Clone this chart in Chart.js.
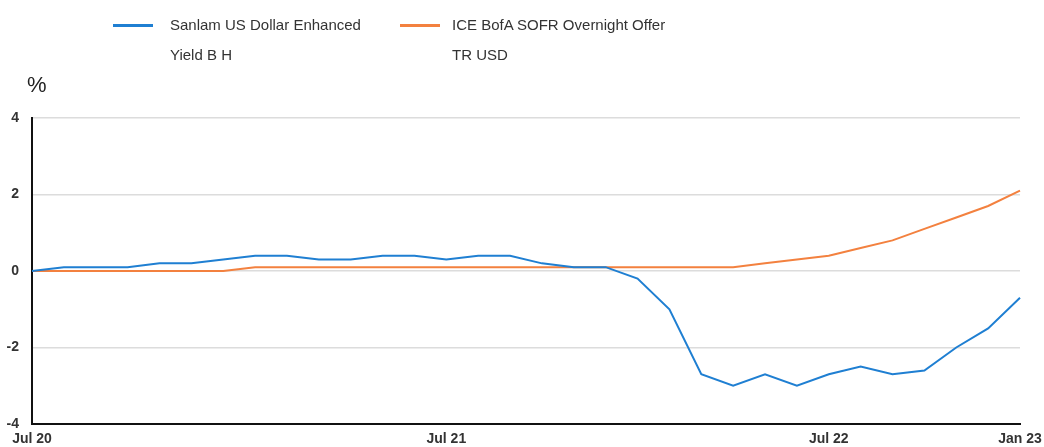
<!DOCTYPE html>
<html>
<head>
<meta charset="utf-8">
<script src="https://cdn.jsdelivr.net/npm/chart.js@4.4.1/dist/chart.umd.min.js"></script>
<style>
  html, body { margin: 0; padding: 0; background: #fff; }
  #wrap { position: relative; width: 1044px; height: 447px; overflow: hidden; font-family: "Liberation Sans", Arial, sans-serif; color: #333; }
  canvas { position: absolute; left: 0; top: 0; }
  .leg { position: absolute; font-size: 15px; line-height: 30px; }
  .swatch { position: absolute; height: 3px; }
  #unit { position: absolute; left: 27px; top: 72px; font-size: 22px; color: #222; }
</style>
</head>
<body>
<div id="wrap">
  <canvas id="chart" width="1044" height="447"></canvas>
  <div class="swatch" style="left:113px; top:24px; width:40px; background:#1f7fd2"></div>
  <div class="leg" style="left:170px; top:10px">Sanlam US Dollar Enhanced<br>Yield B H</div>
  <div class="swatch" style="left:400px; top:24px; width:40px; background:#f3813f"></div>
  <div class="leg" style="left:452px; top:10px">ICE BofA SOFR Overnight Offer<br>TR USD</div>
  <div id="unit">%</div>
</div>
<script>
const seriesNames = ["Sanlam US Dollar Enhanced Yield B H", "ICE BofA SOFR Overnight Offer TR USD"];

// 32 monthly points, labels only on a few of them
const months = [
  "Jun 20", "Jul 20", "Aug 20", "Sep 20", "Oct 20", "Nov 20", "Dec 20", "Jan 21",
  "Feb 21", "Mar 21", "Apr 21", "May 21", "Jun 21", "Jul 21", "Aug 21", "Sep 21",
  "Oct 21", "Nov 21", "Dec 21", "Jan 22", "Feb 22", "Mar 22", "Apr 22", "May 22",
  "Jun 22", "Jul 22", "Aug 22", "Sep 22", "Oct 22", "Nov 22", "Dec 22", "Jan 23"
];
const tickLabels = { 0: "Jul 20", 13: "Jul 21", 25: "Jul 22", 31: "Jan 23" };

const sanlam = [
  0, 0.1, 0.1, 0.1, 0.2, 0.2, 0.3, 0.4, 0.4, 0.3, 0.3, 0.4, 0.4, 0.3, 0.4, 0.4,
  0.2, 0.1, 0.1, -0.2, -1.0, -2.7, -3.0, -2.7, -3.0, -2.7, -2.5, -2.7, -2.6, -2.0, -1.5, -0.7
];
const sofr = [
  0, 0, 0, 0, 0, 0, 0, 0.1, 0.1, 0.1, 0.1, 0.1, 0.1, 0.1, 0.1, 0.1,
  0.1, 0.1, 0.1, 0.1, 0.1, 0.1, 0.1, 0.2, 0.3, 0.4, 0.6, 0.8, 1.1, 1.4, 1.7, 2.1
];

const yTicks = { min: -4, max: 4, step: 2 };

const tickFont = { family: "'Liberation Sans', Arial, sans-serif", size: 14, weight: "bold" };

new Chart(document.getElementById("chart").getContext("2d"), {
  type: "line",
  data: {
    labels: months,
    datasets: [
      { label: seriesNames[0], data: sanlam, borderColor: "#1f7fd2", borderWidth: 2, pointRadius: 0, tension: 0 },
      { label: seriesNames[1], data: sofr, borderColor: "#f3813f", borderWidth: 2, pointRadius: 0, tension: 0 }
    ]
  },
  options: {
    responsive: false,
    animation: false,
    layout: { padding: { top: 118, right: 24, left: 0, bottom: 0 } },
    plugins: { legend: { display: false }, tooltip: { enabled: false } },
    scales: {
      x: {
        offset: false,
        grid: { display: false, drawTicks: false },
        border: { display: true, color: "#111", width: 2 },
        ticks: {
          autoSkip: false, maxRotation: 0, padding: 7, color: "#333", font: tickFont,
          callback: (v, i) => tickLabels[i] || ""
        },
        afterFit: (s) => { s.height = 23; s.paddingRight = 0; s.paddingLeft = 0; }
      },
      y: {
        min: yTicks.min, max: yTicks.max,
        grid: { color: "#dcdcdc", lineWidth: 1.5, drawTicks: false },
        border: { display: true, color: "#111", width: 2 },
        ticks: { stepSize: yTicks.step, padding: 13, color: "#333", font: tickFont },
        afterFit: (s) => { s.width = 32; }
      }
    }
  }
});
</script>
</body>
</html>
